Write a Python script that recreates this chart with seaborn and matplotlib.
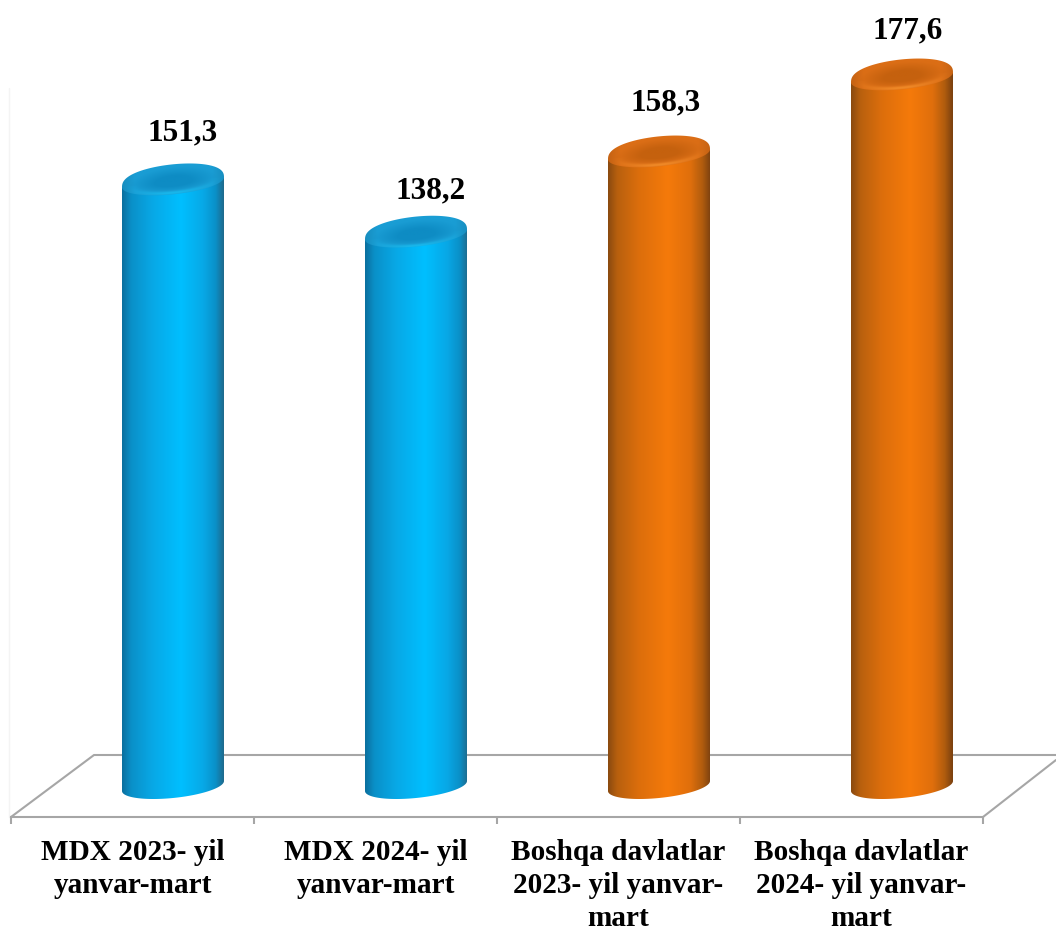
import numpy as np
import matplotlib
matplotlib.use("Agg")
import matplotlib.pyplot as plt
from matplotlib.patches import Polygon
from matplotlib.colors import LinearSegmentedColormap, to_rgb
import seaborn as sns

categories = ["MDX 2023- yil yanvar-mart", "MDX 2024- yil yanvar-mart",
              "Boshqa davlatlar 2023- yil yanvar-mart", "Boshqa davlatlar 2024- yil yanvar-mart"]
tick_labels = ["MDX 2023- yil\nyanvar-mart", "MDX 2024- yil\nyanvar-mart",
               "Boshqa davlatlar\n2023- yil yanvar-\nmart", "Boshqa davlatlar\n2024- yil yanvar-\nmart"]
values = [151.3, 138.2, 158.3, 177.6]
bar_colors = ["#00bcff", "#00bcff", "#f57a0a", "#f57a0a"]

W, H = 1056, 931
sns.set_theme(style="white")
plt.rcParams["font.family"] = ["Liberation Serif", "DejaVu Serif"]

SY = 3.99                        # pixels per value unit
fig = plt.figure(figsize=(W / 100, H / 100), dpi=100, facecolor="white")
ax = fig.add_axes([11 / W, (H - 817) / H, 972 / W, 817 / H])

sns.barplot(x=categories, y=values, hue=categories, palette=bar_colors, legend=False,
            width=102 / 243, saturation=1, ax=ax, zorder=3)
YLIM = ((786 - 817) / SY, 786 / SY)
ax.set_xlim(-2 / 3, 10 / 3)
ax.set_ylim(*YLIM)
ax.set_xlabel("")
ax.set_ylabel("")
ax.patch.set_alpha(0)
ax.set_yticks([])

PX, PY = 1 / 243, 1 / SY         # data units per pixel
def dx(p): return (p - 173) * PX
def dy(p): return (786 - p) * PY

GREY = "#a6a6a6"
for s in ("top", "left", "right"):
    ax.spines[s].set_visible(False)
ax.spines["bottom"].set_color(GREY)
ax.spines["bottom"].set_linewidth(1.5)
ax.set_xticks(np.arange(5) - 2 / 3)
ax.set_xticklabels([])
ax.set_xticks(np.arange(4) - 1 / 6, labels=tick_labels, minor=True)
ax.tick_params(axis="x", which="major", length=5.2, width=1.5, color=GREY, bottom=True)
ax.tick_params(axis="x", which="minor", length=0, pad=16, labelsize=21.1, labelcolor="black")
for t in ax.get_xticklabels(minor=True):
    t.set_fontweight("bold")
    t.set_linespacing(1.27)

# floor and the faint wall edge
line = dict(color=GREY, lw=1.5, clip_on=False, zorder=1, solid_capstyle="round")
ax.plot([dx(11), dx(94), dx(1056)], [dy(817), dy(755), dy(755)], **line)
ax.plot([dx(983), dx(1056)], [dy(817), dy(760)], **line)
ax.plot([dx(9.5), dx(9.5)], [dy(817), dy(88)], color="#f4f4f4", lw=1, clip_on=False, zorder=0)

side_stops = {"#00bcff": ["#0b6f9e", "#0a90c8", "#08a8e6", "#00bfff", "#08a8e6", "#0a90c8", "#1f6a8c"],
              "#f57a0a": ["#8a4a10", "#b8600e", "#dc6e0c", "#f57a0a", "#e06f0c", "#b05c0e", "#7a4010"]}
stop_pos = [0, .09, .30, .58, .80, .92, 1]
cap_cols = {"#00bcff": ("#0e8cc4", "#1a9dd4", "#18b8ec"),
            "#f57a0a": ("#c5610e", "#db6e16", "#f08a28")}

b_low, b_up, skew = 12.0, 18.0, 5.0   # ellipse sizes in pixels

labels = [f"{v:.1f}".replace(".", ",") for v in values]
label_off = [(10, 49), (15, 44), (7, 51), (6, 46)]

for cont, col, v, txt, off in zip(ax.containers, bar_colors, values, labels, label_off):
    bar = cont[0]
    x0, w, h = bar.get_x(), bar.get_width(), bar.get_height()
    cx = x0 + w / 2
    a = w / 2
    # lateral surface with rounded foot
    t = np.linspace(np.pi, 2 * np.pi, 80)
    foot = np.c_[cx + a * np.cos(t), (b_low * np.sin(t) + skew * np.cos(t)) * PY]
    outline = np.r_[[[x0, h - skew * PY]], foot, [[x0 + w, h + skew * PY]]]
    clip = Polygon(outline, closed=True, transform=ax.transData, fc="none", ec="none")
    ax.add_patch(clip)
    cmap = LinearSegmentedColormap.from_list("s", list(zip(stop_pos, side_stops[col])))
    im = ax.imshow(np.linspace(0, 1, 256)[None, :], cmap=cmap, aspect="auto", zorder=3.5,
                   extent=(x0, x0 + w, -20 * PY, h + 10 * PY), interpolation="bilinear")
    im.set_clip_path(clip)
    bar.set_alpha(0)
    # top cap
    t = np.linspace(0, 2 * np.pi, 200)
    st = np.sin(t)
    up = np.sign(st) * np.abs(st) ** 0.8 * b_up
    rim = np.c_[cx + a * np.cos(t), h + (np.where(st > 0, up, b_low * st) + skew * np.cos(t)) * PY]
    cap_clip = Polygon(rim, closed=True, transform=ax.transData, fc="none", ec="none")
    ax.add_patch(cap_clip)
    gx, gy = np.meshgrid(np.linspace(-1.02, 1.02, 240), np.linspace(-20, 24, 120))
    gv = gy - skew * gx
    r = np.sqrt(gx ** 2 + (gv / np.where(gv > 0, b_up, b_low)) ** 2)
    dark, ring, hi = (np.array(to_rgb(c)) for c in cap_cols[col])
    m = np.clip((r - .35) / .5, 0, 1)[..., None]
    img = dark * (1 - m) + ring * m
    glow = (np.exp(-((r - .9) / .14) ** 2) * (gv < 0) * np.clip(1.15 - np.abs(gx) / .8, 0, 1))[..., None]
    glow = np.clip(glow, 0, 1)
    img = img * (1 - glow) + hi * glow
    edge = (1 - .10 * np.clip((np.abs(gx) - .75) / .25, 0, 1))[..., None]
    img = np.clip(img * edge, 0, 1)
    cim = ax.imshow(img, origin="lower", aspect="auto", zorder=3.6, interpolation="bilinear",
                    extent=(cx - 1.02 * a, cx + 1.02 * a, h - 20 * PY, h + 24 * PY))
    cim.set_clip_path(cap_clip)
    ax.annotate(txt, (cx, h), xytext=off, textcoords="offset pixels", ha="center", va="center",
                fontsize=22.5, fontweight="bold", color="black", zorder=5, annotation_clip=False)

ax.set_xlim(-2 / 3, 10 / 3)
ax.set_ylim(*YLIM)
fig.savefig("out.png", dpi=100, facecolor="white")
